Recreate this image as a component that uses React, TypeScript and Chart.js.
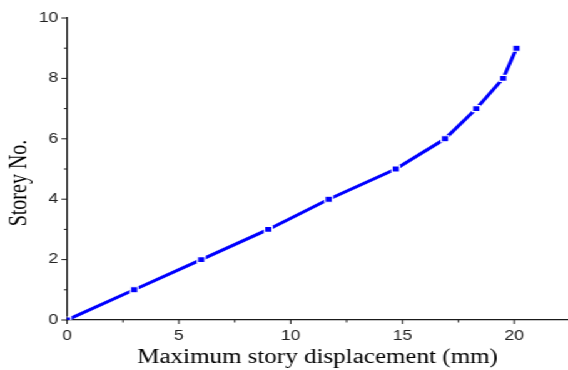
import { useEffect, useRef } from "react";
import { Chart, registerables } from "chart.js";

Chart.register(...registerables);

// Storey number against the peak lateral displacement of that storey
const storeys = [0, 1, 2, 3, 4, 5, 6, 7, 8, 9];
const displacementMm = [0, 3.0, 6.0, 9.0, 11.7, 14.7, 16.9, 18.3, 19.5, 20.1];

const xMajorTicks = [0, 5, 10, 15, 20];
const xMinorTicks = [2.5, 7.5, 12.5, 17.5];
const yMajorTicks = [0, 2, 4, 6, 8, 10];
const yMinorTicks = [1, 3, 5, 7, 9];

const xTitle = "Maximum story displacement (mm)";
const yTitle = "Storey No.";

// The figure is drawn on a narrower canvas and widened horizontally
const INNER_W = 454;
const H = 370;
const STRETCH = 568 / INNER_W;

const AXIS_COLOR = "#1a1a1a";
const TICK_FONT = "Liberation Sans";
const TITLE_FONT = "Liberation Serif";

const axisDecor = {
  id: "axisDecor",
  afterDraw(chart: any) {
    const { ctx, chartArea, scales } = chart;
    const xs = scales.x;
    const ys = scales.y;
    ctx.save();
    ctx.strokeStyle = AXIS_COLOR;
    ctx.lineWidth = 1;
    const xTick = (v: number, len: number) => {
      const px = xs.getPixelForValue(v);
      ctx.beginPath();
      ctx.moveTo(px, chartArea.bottom);
      ctx.lineTo(px, chartArea.bottom + len);
      ctx.stroke();
    };
    const yTick = (v: number, len: number) => {
      const py = ys.getPixelForValue(v);
      ctx.beginPath();
      ctx.moveTo(chartArea.left, py);
      ctx.lineTo(chartArea.left - len, py);
      ctx.stroke();
    };
    xMajorTicks.forEach((v) => xTick(v, 4));
    xMinorTicks.forEach((v) => xTick(v, 2.5));
    yMajorTicks.forEach((v) => yTick(v, 4.5));
    yMinorTicks.forEach((v) => yTick(v, 2.5));

    // Axis titles
    ctx.fillStyle = "#000";
    ctx.font = `20px "${TITLE_FONT}"`;
    ctx.textAlign = "center";
    ctx.textBaseline = "alphabetic";
    ctx.fillText(xTitle, (chartArea.left + chartArea.right) / 2, 363);

    ctx.translate(20.5, 183);
    ctx.rotate(-Math.PI / 2);
    ctx.fillText(yTitle, 0, 0);
    ctx.restore();
  },
};

export default function App() {
  const canvasRef = useRef<HTMLCanvasElement | null>(null);

  useEffect(() => {
    document.body.style.margin = "0";
    const canvas = canvasRef.current;
    if (!canvas) return;
    const chart = new Chart(canvas, {
      type: "line",
      data: {
        datasets: [
          {
            data: displacementMm.map((x, i) => ({ x, y: storeys[i] })),
            borderColor: "#0000ff",
            borderWidth: 3,
            backgroundColor: "#0000ff",
            pointStyle: "rect",
            pointRadius: 4.3,
            pointBorderWidth: 1.2,
            pointBorderColor: "#ffffff",
            pointBackgroundColor: "#0000ff",
            tension: 0,
            fill: false,
          },
        ],
      },
      options: {
        animation: false,
        responsive: true,
        maintainAspectRatio: false,
        devicePixelRatio: 1,
        layout: {
          autoPadding: false,
          padding: { top: 18, right: 0, bottom: 0, left: 0 },
        },
        plugins: {
          legend: { display: false },
          tooltip: { enabled: false },
        },
        scales: {
          x: {
            type: "linear",
            min: 0,
            max: 22.4,
            grid: { display: false, drawTicks: false },
            border: { display: true, color: AXIS_COLOR, width: 1.2 },
            afterBuildTicks: (scale: any) => {
              scale.ticks = xMajorTicks.map((value) => ({ value }));
            },
            afterFit: (scale: any) => {
              scale.height = 50;
            },
            ticks: {
              padding: 8,
              color: "#222",
              font: { family: TICK_FONT, size: 14 },
              maxRotation: 0,
              callback: (v: any) => String(v),
            },
          },
          y: {
            type: "linear",
            min: 0,
            max: 10,
            grid: { display: false, drawTicks: false },
            border: { display: true, color: AXIS_COLOR, width: 1.2 },
            afterBuildTicks: (scale: any) => {
              scale.ticks = yMajorTicks.map((value) => ({ value }));
            },
            afterFit: (scale: any) => {
              scale.width = 53.6;
            },
            ticks: {
              padding: 7,
              color: "#222",
              font: { family: TICK_FONT, size: 14 },
              callback: (v: any) => String(v),
            },
          },
        },
      },
      plugins: [axisDecor],
    });
    return () => chart.destroy();
  }, []);

  return (
    <div
      style={{
        position: "fixed",
        left: 0,
        top: 0,
        width: INNER_W,
        height: H,
        transform: `scaleX(${STRETCH})`,
        transformOrigin: "0 0",
        background: "#fff",
      }}
    >
      <canvas ref={canvasRef} />
    </div>
  );
}
